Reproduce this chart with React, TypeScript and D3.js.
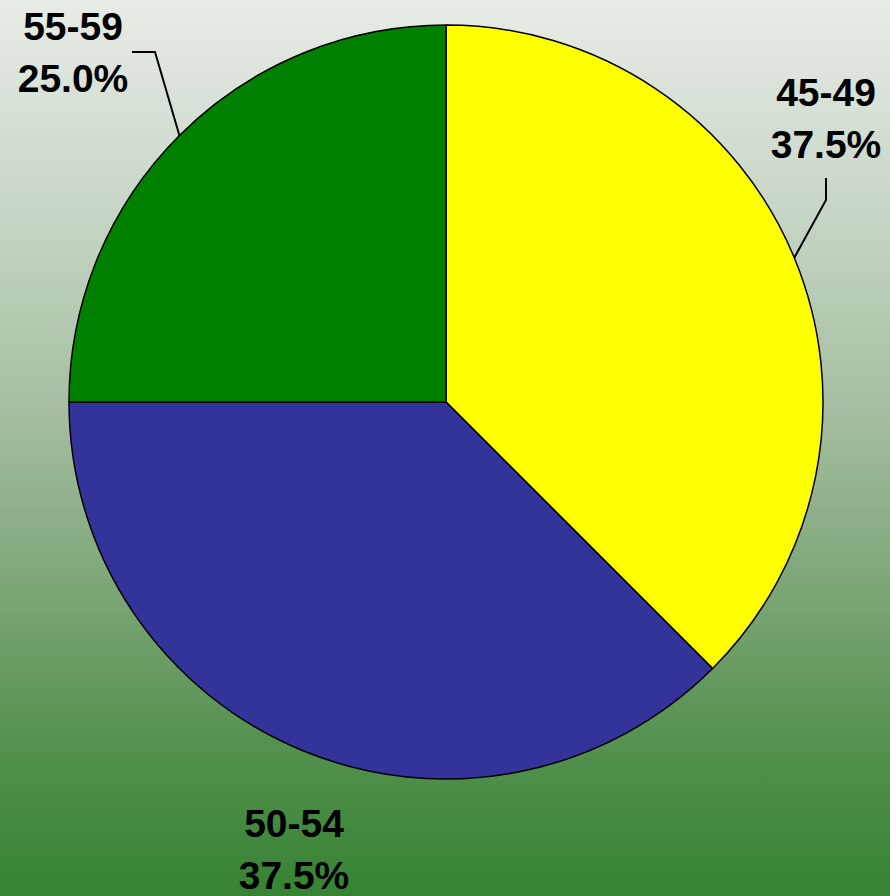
import React, { useRef, useEffect } from 'react';
import * as d3 from 'd3';

const categories = ['45-49', '50-54', '55-59'];
const shares = [37.5, 37.5, 25.0];
const colors = ['#ffff00', '#333399', '#008000'];

// label layout: center x, first baseline, and leader elbow (null = no leader)
const labelPos = [
  { x: 826, y: 106, elbow: [826, 200], end: [826, 178] },
  { x: 294, y: 837, elbow: null, end: null },
  { x: 73, y: 40, elbow: [155, 52], end: [132, 52] },
];

const App = () => {
  const svgRef = useRef(null);
  const width = 890;
  const height = 896;
  const cx = 446;
  const cy = 402;
  const radius = 377;

  useEffect(() => {
    const svg = d3.select(svgRef.current)
      .attr('width', width)
      .attr('height', height);
    svg.selectAll('*').remove();

    // background gradient
    const defs = svg.append('defs');
    const grad = defs.append('linearGradient')
      .attr('id', 'bg')
      .attr('x1', 0).attr('y1', 0).attr('x2', 0).attr('y2', 1);
    [
      [0, '#e8ece6'],
      [0.22, '#c9d7c8'],
      [0.45, '#a7bfa3'],
      [0.67, '#7aa474'],
      [0.84, '#52904c'],
      [1, '#358333'],
    ].forEach(([o, c]) => grad.append('stop').attr('offset', o as number).attr('stop-color', c as string));

    svg.append('rect')
      .attr('width', width)
      .attr('height', height)
      .attr('fill', 'url(#bg)');

    const pie = d3.pie<number>().sort(null).value(d => d);
    const arcs = pie(shares);
    const arc = d3.arc<d3.PieArcDatum<number>>().innerRadius(0).outerRadius(radius);
    const edge = d3.arc<d3.PieArcDatum<number>>().innerRadius(radius).outerRadius(radius);

    const g = svg.append('g').attr('transform', `translate(${cx},${cy})`);

    g.selectAll('path.slice')
      .data(arcs)
      .enter()
      .append('path')
      .attr('class', 'slice')
      .attr('d', arc)
      .attr('fill', (_, i) => colors[i])
      .attr('stroke', '#000')
      .attr('stroke-width', 1.5)
      .attr('stroke-linejoin', 'round');

    // leader lines
    arcs.forEach((a, i) => {
      const lp = labelPos[i];
      if (!lp.elbow || !lp.end) return;
      const [ex, ey] = edge.centroid(a);
      const pts: [number, number][] = [
        [ex + cx, ey + cy],
        [lp.elbow[0], lp.elbow[1]],
        [lp.end[0], lp.end[1]],
      ];
      svg.append('path')
        .attr('d', d3.line()(pts))
        .attr('fill', 'none')
        .attr('stroke', '#000')
        .attr('stroke-width', 2);
    });

    // labels
    const labels = svg.append('g')
      .attr('font-family', 'Liberation Sans, Arial, sans-serif')
      .attr('font-weight', 'bold')
      .attr('font-size', 39)
      .attr('text-anchor', 'middle')
      .attr('fill', '#000');

    categories.forEach((c, i) => {
      const lp = labelPos[i];
      labels.append('text').attr('x', lp.x).attr('y', lp.y).text(c);
      labels.append('text').attr('x', lp.x).attr('y', lp.y + 52).text(`${shares[i].toFixed(1)}%`);
    });
  }, []);

  return <svg ref={svgRef} style={{ position: 'absolute', left: 0, top: 0 }}></svg>;
};

export default App;
